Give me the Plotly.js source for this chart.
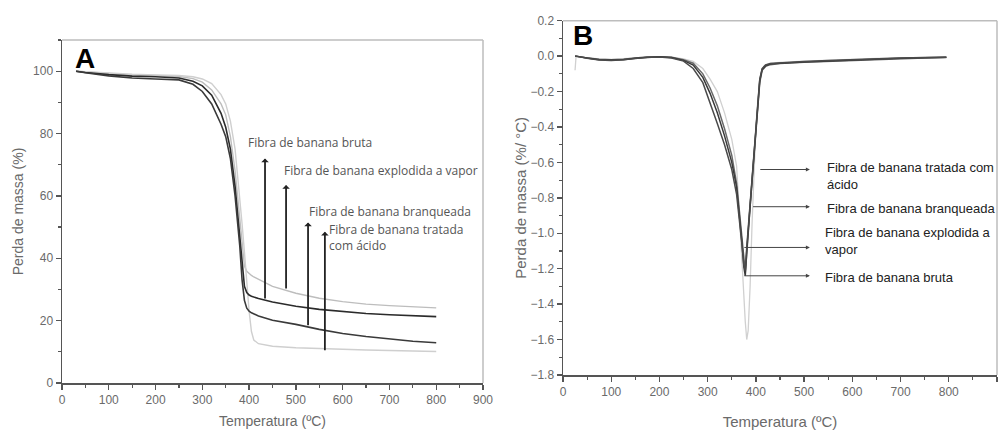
<!DOCTYPE html>
<html>
<head>
<meta charset="utf-8">
<script src="https://cdn.plot.ly/plotly-3.0.1.min.js"></script>
<style>
html,body{margin:0;padding:0;background:#fff;}
#chart{width:1005px;height:430px;}
</style>
</head>
<body>
<div id="chart"></div>
<script>
// ---------- Panel A : TGA ----------
var tempA = [30, 50, 100, 150, 200, 250, 280, 300, 320, 340, 350, 360, 370, 380, 385, 390, 395, 400, 405, 410, 420, 450, 500, 550, 600, 650, 700, 750, 800];
var tgaExplodida = [100, 99.8, 99.2, 98.8, 98.6, 98.3, 97.6, 96.5, 94, 89.5, 86, 79, 68, 52, 43, 37.5, 35.8, 35, 34.5, 34, 33.2, 31, 28.8, 27.2, 26.1, 25.3, 24.8, 24.4, 24.1];
var tgaBruta = [100, 99.6, 98.9, 98.4, 98.2, 97.8, 96.8, 95.3, 92.3, 86.5, 82, 75, 63, 47, 37, 31, 29, 28.2, 27.8, 27.5, 27.1, 26, 24.6, 23.6, 22.9, 22.3, 21.9, 21.6, 21.3];
var tgaBranqueada = [100, 99.5, 98.5, 97.8, 97.5, 97.2, 95.8, 93.5, 89.5, 83, 79, 72, 60, 44, 33, 26.5, 24, 23, 22.5, 22.1, 21.5, 20.1, 18.8, 17.2, 15.9, 14.9, 14.1, 13.4, 12.9];
var tgaAcido = [100, 99.8, 99.4, 99, 98.8, 98.6, 98.2, 97.5, 96, 92.5, 89.5, 84, 75, 60, 51, 42, 32, 23, 16.5, 13.8, 12.6, 11.8, 11.3, 11, 10.8, 10.6, 10.4, 10.2, 10.1];

// ---------- Panel B : DTG ----------
var tempB = [25, 27, 50, 75, 100, 125, 150, 175, 200, 225, 250, 270, 290, 305, 320, 335, 350, 360, 366, 371, 375, 378, 381, 384, 388, 392, 396, 400, 404, 408, 413, 420, 430, 450, 500, 550, 600, 650, 700, 750, 795];
var dtgBruta = [0, 0, -0.01, -0.02, -0.022, -0.02, -0.012, -0.006, -0.004, -0.008, -0.024, -0.05, -0.12, -0.21, -0.32, -0.45, -0.6, -0.74, -0.9, -1.05, -1.19, -1.24, -1.1, -0.98, -0.84, -0.7, -0.56, -0.42, -0.28, -0.14, -0.075, -0.055, -0.045, -0.04, -0.033, -0.027, -0.02, -0.016, -0.012, -0.009, -0.006];
var dtgExplodida = [0, 0, -0.01, -0.018, -0.02, -0.018, -0.011, -0.005, -0.004, -0.007, -0.02, -0.04, -0.1, -0.18, -0.28, -0.41, -0.56, -0.72, -0.88, -1.04, -1.17, -1.22, -1.12, -0.99, -0.85, -0.71, -0.57, -0.43, -0.29, -0.15, -0.08, -0.058, -0.048, -0.042, -0.035, -0.03, -0.023, -0.018, -0.014, -0.01, -0.008];
var dtgBranqueada = [0, 0, -0.012, -0.022, -0.024, -0.021, -0.013, -0.006, -0.005, -0.01, -0.028, -0.07, -0.15, -0.26, -0.38, -0.5, -0.64, -0.78, -0.92, -1.06, -1.18, -1.21, -1.08, -0.97, -0.83, -0.69, -0.55, -0.41, -0.27, -0.13, -0.07, -0.05, -0.042, -0.038, -0.03, -0.025, -0.019, -0.015, -0.011, -0.008, -0.006];
var dtgAcido = [-0.08, -0.005, -0.008, -0.016, -0.018, -0.016, -0.01, -0.004, -0.003, -0.006, -0.016, -0.03, -0.07, -0.13, -0.2, -0.32, -0.47, -0.62, -0.9, -1.12, -1.35, -1.5, -1.6, -1.55, -1.3, -0.95, -0.62, -0.4, -0.25, -0.13, -0.07, -0.05, -0.04, -0.035, -0.028, -0.022, -0.017, -0.013, -0.01, -0.008, -0.006];

var labelsA = ["Fibra de banana bruta", "Fibra de banana explodida a vapor", "Fibra de banana branqueada", "Fibra de banana tratada<br>com ácido"];
var labelsB = ["Fibra de banana tratada com<br>ácido", "Fibra de banana branqueada", "Fibra de banana explodida a<br>vapor", "Fibra de banana bruta"];

var dark = '#2b2b2b';
var traces = [
  {x: tempA, y: tgaExplodida, xaxis:'x', yaxis:'y', mode:'lines', name:'Explodida a vapor', line:{color:'#bdbdbd', width:1.4}},
  {x: tempA, y: tgaAcido, xaxis:'x', yaxis:'y', mode:'lines', name:'Tratada com ácido', line:{color:'#cfcfcf', width:1.4}},
  {x: tempA, y: tgaBruta, xaxis:'x', yaxis:'y', mode:'lines', name:'Bruta', line:{color:dark, width:1.6}},
  {x: tempA, y: tgaBranqueada, xaxis:'x', yaxis:'y', mode:'lines', name:'Branqueada', line:{color:'#3a3a3a', width:1.6}},
  {x: tempB, y: dtgAcido, xaxis:'x2', yaxis:'y2', mode:'lines', name:'Tratada com ácido', line:{color:'#d0d0d0', width:1.3}},
  {x: tempB, y: dtgExplodida, xaxis:'x2', yaxis:'y2', mode:'lines', name:'Explodida a vapor', line:{color:'#6a6a6a', width:1.5}},
  {x: tempB, y: dtgBruta, xaxis:'x2', yaxis:'y2', mode:'lines', name:'Bruta', line:{color:'#3a3a3a', width:1.5}},
  {x: tempB, y: dtgBranqueada, xaxis:'x2', yaxis:'y2', mode:'lines', name:'Branqueada', line:{color:'#4a4a4a', width:1.5}}
];

var tickFont = {family:'"Liberation Sans", Arial, sans-serif', size:12, color:'#6a6a6a'};
var titleFont = {family:'"Liberation Sans", Arial, sans-serif', size:14, color:'#6a6a6a'};
function axisBase(extra){
  var a = {showgrid:false, zeroline:false, showline:true, linecolor:'#555', linewidth:1.5,
    ticks:'outside', ticklen:5, tickwidth:1.3, tickcolor:'#555', tickfont:tickFont};
  for (var k in extra) a[k] = extra[k];
  return a;
}

var annA = [
  {x:434, y:72, ax:434, ay:26.6, tx:393, ty:77, t:labelsA[0]},
  {x:479, y:63.5, ax:479, ay:29.8, tx:471, ty:68.3, t:labelsA[1]},
  {x:526, y:51.5, ax:526, ay:18, tx:523, ty:54.9, t:labelsA[2]},
  {x:562, y:48.5, ax:562, ay:10, tx:566, ty:46.8, t:labelsA[3]}
];
var annB = [
  {x:512, y:-0.64, ax:406, tx:544, ty:-0.675, t:labelsB[0]},
  {x:512, y:-0.85, ax:391, tx:544, ty:-0.858, t:labelsB[1]},
  {x:512, y:-1.08, ax:373, tx:539, ty:-1.045, t:labelsB[2]},
  {x:512, y:-1.24, ax:373, tx:539, ty:-1.252, t:labelsB[3]}
];
var annotations = [];
annA.forEach(function(a){
  annotations.push({xref:'x', yref:'y', axref:'x', ayref:'y', x:a.x, y:a.y, ax:a.ax, ay:a.ay,
    showarrow:true, arrowhead:1, arrowsize:0.7, arrowwidth:1.8, arrowcolor:'#222', text:''});
  annotations.push({xref:'x', yref:'y', x:a.tx, y:a.ty, text:a.t, showarrow:false, xanchor:'left', yanchor:'middle', align:'left',
    font:{family:'"Open Sans", sans-serif', size:12, color:'#555'}});
});
annB.forEach(function(a){
  annotations.push({xref:'x2', yref:'y2', axref:'x2', ayref:'y2', x:a.x, y:a.y, ax:a.ax, ay:a.y,
    showarrow:true, arrowhead:2, arrowsize:0.8, arrowwidth:1, arrowcolor:'#444', text:''});
  annotations.push({xref:'x2', yref:'y2', x:a.tx, y:a.ty, text:a.t, showarrow:false, xanchor:'left', yanchor:'middle', align:'left',
    font:{family:'"Liberation Sans", Arial, sans-serif', size:13, color:'#222'}});
});
annotations.push({xref:'paper', yref:'paper', x:73/1005, y:1-58/430, text:'<b>A</b>', showarrow:false, xanchor:'left', yanchor:'middle',
  font:{family:'"Liberation Sans", Arial, sans-serif', size:28, color:'#000'}});
annotations.push({xref:'paper', yref:'paper', x:571/1005, y:1-35/430, text:'<b>B</b>', showarrow:false, xanchor:'left', yanchor:'middle',
  font:{family:'"Liberation Sans", Arial, sans-serif', size:28, color:'#000'}});

var frameColor = '#bdbdbd';
var shapes = [
  {type:'line', xref:'x domain', yref:'y domain', x0:0, x1:1, y0:1, y1:1, line:{color:frameColor, width:1.5}},
  {type:'line', xref:'x domain', yref:'y domain', x0:1, x1:1, y0:0, y1:1, line:{color:frameColor, width:1.5}},
  {type:'line', xref:'x2 domain', yref:'y2 domain', x0:0, x1:1, y0:1, y1:1, line:{color:frameColor, width:1.5}},
  {type:'line', xref:'x2 domain', yref:'y2 domain', x0:1, x1:1, y0:0, y1:1, line:{color:frameColor, width:1.5}}
];

function minor(d){ return {dtick:d, ticks:'outside', ticklen:3, tickwidth:1.2, tickcolor:'#555'}; }

var layout = {
  width:1005, height:430, margin:{l:0, r:0, t:0, b:0}, showlegend:false,
  paper_bgcolor:'#fff', plot_bgcolor:'#fff',
  xaxis: axisBase({domain:[62/1005, 483/1005], range:[0,900], dtick:100, tick0:0, anchor:'y', minor:minor(50),
    title:{text:'Temperatura (ºC)', font:titleFont, standoff:10}}),
  yaxis: axisBase({domain:[1-383/430, 1-40/430], range:[0,110], dtick:20, tick0:0, anchor:'x', minor:minor(10),
    title:{text:'Perda de massa (%)', font:titleFont, standoff:6}}),
  xaxis2: axisBase({domain:[563/1005, 997/1005], range:[0,900], dtick:100, tick0:0, anchor:'y2', minor:minor(50),
    title:{text:'Temperatura (ºC)', font:{family:titleFont.family, size:15, color:'#6a6a6a'}, standoff:19}}),
  yaxis2: axisBase({domain:[1-375/430, 1-20.7/430], range:[-1.8,0.2], dtick:0.2, tick0:0, tickformat:'.1f', anchor:'x2', minor:minor(0.1),
    title:{text:'Perda de massa (%/ °C)', font:{family:titleFont.family, size:15, color:'#6a6a6a'}, standoff:0}}),
  annotations: annotations,
  shapes: shapes
};

Plotly.newPlot('chart', traces, layout, {staticPlot:true, displayModeBar:false});
</script>
</body>
</html>
